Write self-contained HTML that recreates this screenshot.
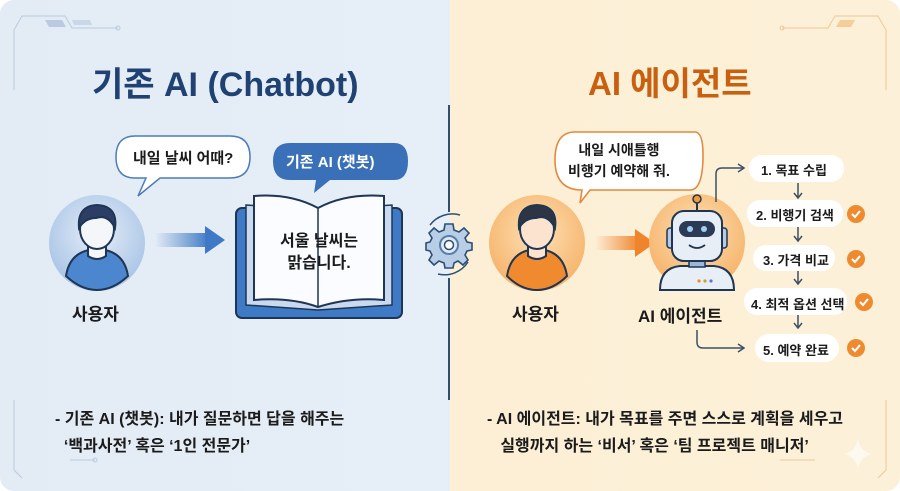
<!DOCTYPE html>
<html><head><meta charset="utf-8"><style>
html,body{margin:0;padding:0;background:#fff;}
#c{position:relative;width:900px;height:491px;overflow:hidden;border-radius:14px;background:linear-gradient(90deg,#e3ebf5 0,#e6eef7 450px,#fcefd6 450px,#fdf0d8 900px);font-family:"Liberation Sans","Noto Sans CJK KR",sans-serif;}
.t{position:absolute;font-weight:bold;white-space:nowrap;}
</style></head><body><div id="c">
<svg width="900" height="491" style="position:absolute;left:0;top:0">
<defs>
<radialGradient id="ub" cx="0.5" cy="0.4" r="0.6"><stop offset="0" stop-color="#e6eef8"/><stop offset="1" stop-color="#a9c4e6"/></radialGradient>
<radialGradient id="uo" cx="0.5" cy="0.4" r="0.6"><stop offset="0" stop-color="#fde2b8"/><stop offset="1" stop-color="#f6b36a"/></radialGradient>
<linearGradient id="ab" x1="0" x2="1"><stop offset="0" stop-color="#3f78c4" stop-opacity="0"/><stop offset="1" stop-color="#3f78c4"/></linearGradient>
<linearGradient id="ao" x1="0" x2="1"><stop offset="0" stop-color="#f0842c" stop-opacity="0"/><stop offset="1" stop-color="#f0842c"/></linearGradient>
</defs>
<g fill="none" stroke="#b9cbe0" stroke-width="1">
<path d="M14 90 V30 L22 16 H65 L72 28 H118"/><circle cx="118" cy="28" r="2"/>
<path d="M14 400 V470 L22 478"/><path d="M70 460 H95"/><circle cx="95" cy="460" r="2"/>
</g>
<path d="M45 20 H62 L66 27 H49Z" fill="#b9cbe0"/><path d="M72 20 H90 L92 25 H74Z" fill="#c9d7e8"/>
<g fill="none" stroke="#ecc998" stroke-width="1">
<path d="M886 90 V30 L878 16 H835 L828 28 H782"/><circle cx="782" cy="28" r="2"/>
<path d="M886 400 V470 L878 478"/><path d="M780 460 H815"/>
</g>
<path d="M840 20 H855 L851 27 H836Z" fill="#f4cd9a"/>
<path d="M449 105 V212 M449 278 V400" stroke="#2d4f74" stroke-width="2"/>
<path d="M430 225 A28 28 0 0 1 460 215 M468 262 A28 28 0 0 1 438 274" fill="none" stroke="#2d4f74" stroke-width="1.5"/>
<g transform="translate(449,245)">
<g fill="#b8cde6" stroke="#2d4f74" stroke-width="1.6">
<path d="M-4 -21 H4 L5 -15 L10 -13 L15 -17 L20 -12 L16 -7 L18 -3 L23 -2 V5 L18 6 L16 10 L19 15 L14 20 L9 16 L5 18 L4 23 H-4 L-5 18 L-10 16 L-15 20 L-20 15 L-17 10 L-19 6 L-23 5 V-2 L-19 -3 L-17 -7 L-20 -12 L-15 -17 L-10 -13 L-5 -15Z"/>
</g>
<circle r="9" fill="#dfe9f5" stroke="#5a7ea8" stroke-width="2"/><circle r="4.5" fill="#fff" stroke="#2d4f74" stroke-width="1.5"/>
</g>
<circle cx="97" cy="243" r="48" fill="url(#ub)"/>
<path d="M66 276 Q70 250 97 249 Q124 250 128 276 Q113 290 97 290 Q81 290 66 276Z" fill="#4b86cf" stroke="#1e3553" stroke-width="2"/>
<path d="M88 244 h18 v12 q-9 6 -18 0z" fill="#f4f6fa" stroke="#1e3553" stroke-width="2"/>
<ellipse cx="97" cy="229" rx="17" ry="20" fill="#f4f6fa" stroke="#1e3553" stroke-width="2"/>
<path d="M79 228 Q77 206 97 205 Q118 206 115 228 Q108 214 96 218 Q85 218 79 228Z" fill="#2c3e66" stroke="#1e3553" stroke-width="2"/>
<rect x="155" y="233" width="55" height="14" fill="url(#ab)"/>
<path d="M205 226 L225 240 L205 254Z" fill="#3f78c4"/>
<path d="M135 136 H230 Q250 136 250 157 Q250 178 230 178 H160 L138 196 L146 178 H135 Q116 178 116 157 Q116 136 135 136Z" fill="#fff" stroke="#4d7dba" stroke-width="1.5"/>
<path d="M290 143 H394 Q408 143 408 161 Q408 180 394 180 H330 L314 193 L316 180 H290 Q273 180 273 161 Q273 143 290 143Z" fill="#3a70b8"/>
<rect x="236" y="208" width="166" height="110" rx="6" fill="#3e7ac6" stroke="#1e3553" stroke-width="2"/>
<path d="M246 205 L318 210 L392 205 V305 L318 310 L246 305Z" fill="#c9daf0" stroke="#1e3553" stroke-width="1.5"/>
<path d="M254 196 Q290 193 318 208 Q346 193 384 196 V300 Q350 297 318 307 Q290 297 254 300Z" fill="#fafcff" stroke="#1e3553" stroke-width="2"/>
<path d="M318 208 V307" stroke="#1e3553" stroke-width="1.5"/>
<circle cx="537" cy="243" r="48" fill="url(#uo)"/>
<path d="M507 276 Q511 250 537 249 Q563 250 567 276 Q553 290 537 290 Q521 290 507 276Z" fill="#f08a2e" stroke="#1e3553" stroke-width="2"/>
<path d="M528 244 h18 v12 q-9 6 -18 0z" fill="#fbe3cf" stroke="#1e3553" stroke-width="2"/>
<ellipse cx="537" cy="229" rx="17" ry="20" fill="#fbe3cf" stroke="#1e3553" stroke-width="2"/>
<path d="M519 228 Q517 206 537 205 Q558 206 555 228 Q548 214 536 218 Q525 218 519 228Z" fill="#2d3444" stroke="#1e3553" stroke-width="2"/>
<rect x="595" y="236" width="45" height="14" fill="url(#ao)"/>
<path d="M635 229 L655 243 L635 257Z" fill="#f0842c"/>
<path d="M575 132 H695 Q703 132 703 155 Q703 190 690 190 H590 L580 203 L582 190 Q555 190 555 160 Q555 132 575 132Z" fill="#fff" stroke="#e38a3c" stroke-width="1.6"/>
<circle cx="697" cy="242" r="48" fill="url(#uo)"/>
<line x1="697" y1="212" x2="697" y2="202" stroke="#1e3553" stroke-width="2"/><circle cx="697" cy="199" r="4" fill="#f39a3a" stroke="#1e3553" stroke-width="1.5"/>
<path d="M660 290 Q660 268 680 266 H714 Q734 268 734 290Z" fill="#e8eef6" stroke="#1e3553" stroke-width="2"/>
<rect x="689" y="258" width="16" height="9" fill="#9bb6d6" stroke="#1e3553" stroke-width="1.5"/>
<rect x="667" y="228" width="8" height="20" rx="3" fill="#b9cbe2" stroke="#1e3553" stroke-width="1.5"/>
<rect x="719" y="228" width="8" height="20" rx="3" fill="#b9cbe2" stroke="#1e3553" stroke-width="1.5"/>
<rect x="672" y="211" width="50" height="50" rx="12" fill="#e8eef6" stroke="#1e3553" stroke-width="2"/>
<rect x="679" y="221" width="36" height="16" rx="8" fill="#2c3b55"/>
<circle cx="690" cy="229" r="3" fill="#9fd0f2"/><circle cx="704" cy="229" r="3" fill="#9fd0f2"/>
<path d="M689 245 Q697 251 705 245" fill="none" stroke="#1e3553" stroke-width="1.8"/>
<circle cx="699" cy="281" r="1.6" fill="#f08a2e"/><circle cx="705" cy="281" r="1.6" fill="#c9a23a"/><circle cx="711" cy="281" r="1.6" fill="#5b7bd0"/>
<g fill="none" stroke="#3d4f66" stroke-width="1.5">
<path d="M716 202 V174 Q716 168 722 168 H743"/><path d="M738 164 L744 168 L738 172"/>
<path d="M697 330 V342 Q697 348 703 348 H743"/><path d="M738 344 L744 348 L738 352"/>
<path d="M798 183 V197 M794 193 L798 198 L802 193"/>
<path d="M798 227 V240 M794 236 L798 241 L802 236"/>
<path d="M798 271 V283 M794 279 L798 284 L802 279"/>
<path d="M798 315 V327 M794 323 L798 328 L802 323"/>
</g>
<g fill="#fff">
<rect x="749" y="155" width="95" height="27" rx="13"/>
<rect x="747" y="200" width="96" height="27" rx="13"/>
<rect x="753" y="245" width="82" height="26" rx="13"/>
<rect x="744" y="288" width="103" height="27" rx="13"/>
<rect x="755" y="334" width="84" height="28" rx="14"/>
</g>
<g fill="#ee8b30"><circle cx="856" cy="214" r="9"/><circle cx="856" cy="259" r="9"/><circle cx="864" cy="302" r="9"/><circle cx="856" cy="348" r="9"/></g>
<g fill="none" stroke="#fff" stroke-width="2"><path d="M852 214 l3 3 5 -6"/><path d="M852 259 l3 3 5 -6"/><path d="M860 302 l3 3 5 -6"/><path d="M852 348 l3 3 5 -6"/></g>
<path d="M858 438 Q860 452 872 454 Q860 456 858 470 Q856 456 844 454 Q856 452 858 438Z" fill="#fff" opacity="0.6"/>
</svg>
<div class="t" style="left:92px;top:57px;font-size:34px;color:#1f4272">기존 AI (Chatbot)</div>
<div class="t" style="left:588px;top:57px;font-size:33px;color:#c8600f">AI 에이전트</div>
<div class="t" style="left:133px;top:147px;font-size:15px;color:#1b1b1b">내일 날씨 어때?</div>
<div class="t" style="left:286px;top:151px;font-size:15px;color:#fff">기존 AI (챗봇)</div>
<div class="t" style="left:280px;top:231px;font-size:16px;color:#1b1b1b;text-align:center;line-height:22px">서울 날씨는<br>맑습니다.</div>
<div class="t" style="left:72px;top:300px;font-size:17px;color:#1b1b1b">사용자</div>
<div class="t" style="left:568px;top:140px;font-size:14px;color:#1b1b1b;text-align:center;line-height:21px">내일 시애틀행<br>비행기 예약해 줘.</div>
<div class="t" style="left:512px;top:300px;font-size:17px;color:#1b1b1b">사용자</div>
<div class="t" style="left:638px;top:302px;font-size:17px;color:#1b1b1b">AI 에이전트</div>
<div class="t" style="left:761px;top:160px;font-size:13px;color:#1b1b1b">1. 목표 수립</div>
<div class="t" style="left:756px;top:205px;font-size:13px;color:#1b1b1b">2. 비행기 검색</div>
<div class="t" style="left:763px;top:250px;font-size:13px;color:#1b1b1b">3. 가격 비교</div>
<div class="t" style="left:751px;top:294px;font-size:13px;color:#1b1b1b">4. 최적 옵션 선택</div>
<div class="t" style="left:763px;top:340px;font-size:13px;color:#1b1b1b">5. 예약 완료</div>
<div class="t" style="left:55px;top:406px;font-size:16px;color:#1b1b1b;line-height:27px">- 기존 AI (챗봇): 내가 질문하면 답을 해주는<br>&nbsp;&nbsp;‘백과사전’ 혹은 ‘1인 전문가’</div>
<div class="t" style="left:487px;top:406px;font-size:16px;color:#1b1b1b;line-height:27px">- AI 에이전트: 내가 목표를 주면 스스로 계획을 세우고<br>&nbsp;&nbsp;&nbsp;실행까지 하는 ‘비서’ 혹은 ‘팀 프로젝트 매니저’</div>
</div></body></html>
